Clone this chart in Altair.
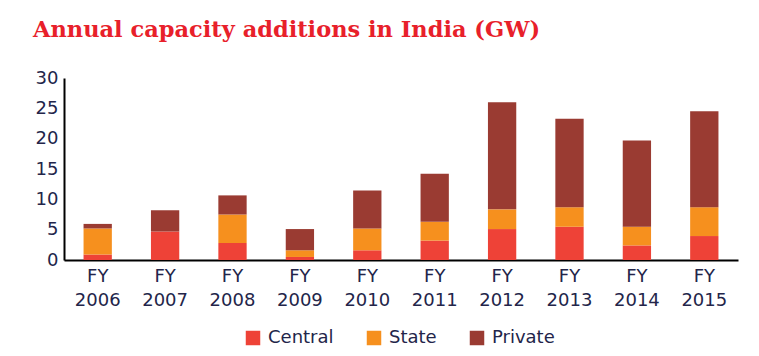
import altair as alt
import pandas as pd

years = ["FY 2006", "FY 2007", "FY 2008", "FY 2009", "FY 2010",
         "FY 2011", "FY 2012", "FY 2013", "FY 2014", "FY 2015"]
central = [0.9, 4.7, 2.8, 0.5, 1.6, 3.2, 5.1, 5.5, 2.4, 3.95]
state = [4.3, 0.0, 4.7, 1.1, 3.6, 3.1, 3.25, 3.2, 3.1, 4.75]
private = [0.75, 3.5, 3.15, 3.5, 6.25, 7.9, 17.65, 14.6, 14.2, 15.8]

series = ["Central", "State", "Private"]
colors = ["#ee4237", "#f6901e", "#9a3b32"]

rows = []
for i, y in enumerate(years):
    for k, (name, vals) in enumerate(zip(series, [central, state, private])):
        rows.append({"year": y, "sector": name, "value": vals[i], "order": k})
df = pd.DataFrame(rows)

text_color = "#23254a"
label_font = "DejaVu Sans"

chart = alt.Chart(df).mark_bar().encode(
    x=alt.X("year:N", sort=years,
            scale=alt.Scale(paddingInner=0.58, paddingOuter=0.29),
            axis=alt.Axis(title=None, labelAngle=0, ticks=False,
                          labelExpr="split(datum.label, ' ')",
                          labelLineHeight=24, labelPadding=7,
                          labelFont=label_font, labelFontSize=18,
                          labelColor=text_color, domainColor="black",
                          domainWidth=2)),
    y=alt.Y("value:Q", stack="zero",
            scale=alt.Scale(domain=[0, 30], nice=False),
            axis=alt.Axis(title=None, values=[0, 5, 10, 15, 20, 25, 30],
                          ticks=False, grid=False, labelPadding=6,
                          labelFont=label_font, labelFontSize=18,
                          labelColor=text_color, domainColor="black",
                          domainWidth=2)),
    color=alt.Color("sector:N", sort=series,
                    scale=alt.Scale(domain=series, range=colors),
                    legend=alt.Legend(title=None, orient="none",
                                      direction="horizontal",
                                      legendX=180, legendY=251,
                                      symbolType="square", symbolSize=210,
                                      symbolStrokeWidth=0,
                                      labelFont=label_font,
                                      labelFontSize=18, labelColor=text_color,
                                      columnPadding=31, labelOffset=6)),
    order=alt.Order("order:Q", sort="ascending"),
).properties(
    width=674, height=182,
    autosize=alt.AutoSizeParams(type="none"),
    padding={"left": 56, "top": 70, "right": 13, "bottom": 88},
    title=alt.Title("Annual capacity additions in India (GW)",
                    anchor="start", frame="group", dx=-31, offset=28,
                    font="DejaVu Serif", fontSize=22.5, fontWeight="bold",
                    color="#e8202a"),
).configure(background="white").configure_view(stroke=None)

chart.save("out.html", embed_options={"renderer": "svg", "actions": False})
